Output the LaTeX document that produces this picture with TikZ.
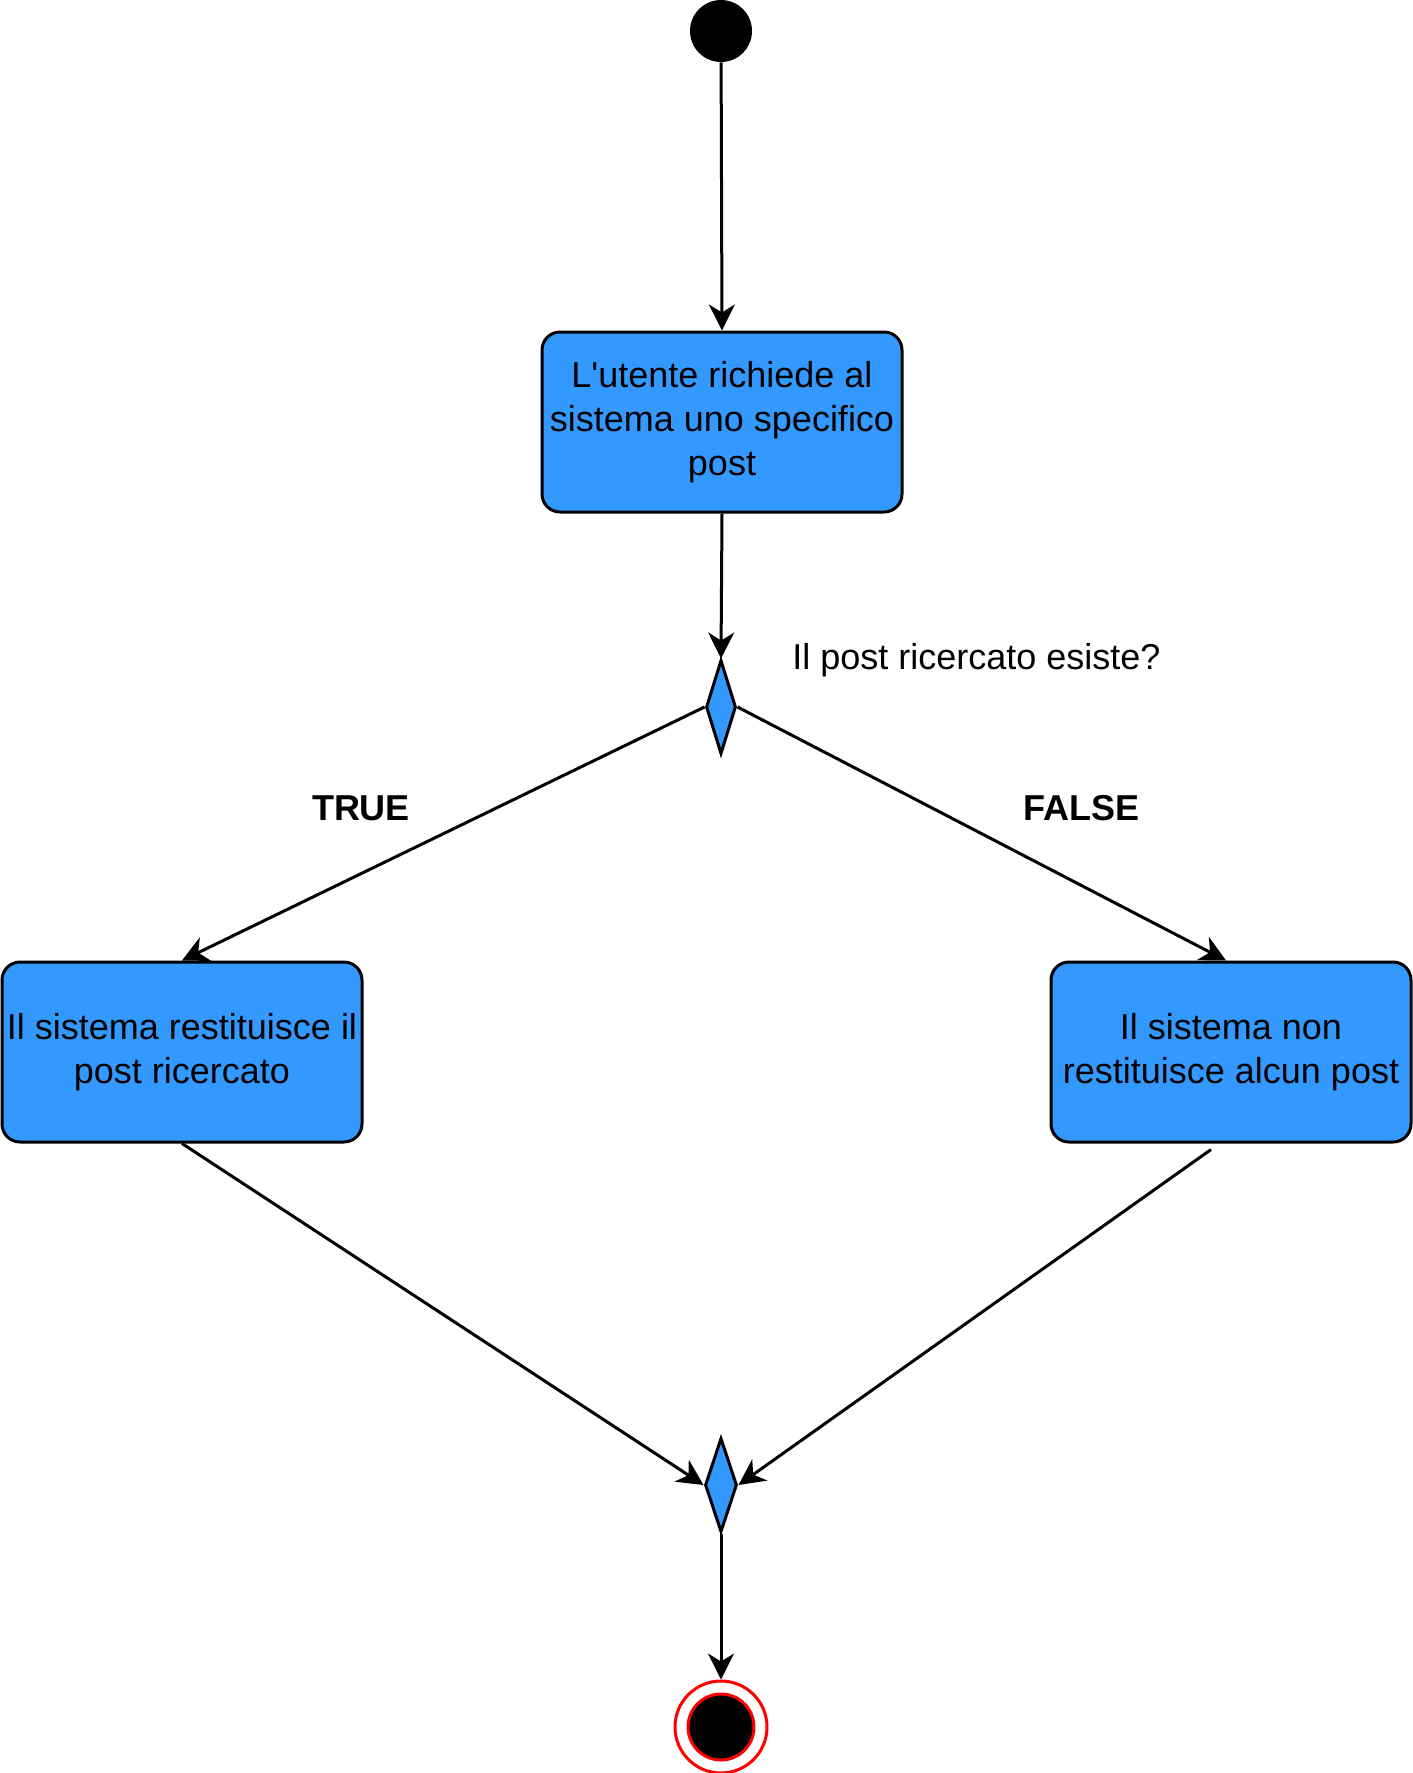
\documentclass[tikz,border=0pt]{standalone}
\usepackage{fontspec}
\setmainfont{Liberation Sans}
\usetikzlibrary{arrows.meta,shapes.geometric}
\definecolor{actblue}{HTML}{3399FF}
\begin{document}
\begin{tikzpicture}[x=0.5pt,y=-0.5pt,
  every node/.style={font=\fontsize{18}{22}\selectfont},
  action/.style={draw=black, line width=1.5pt, fill=actblue, rounded corners=9pt,
    minimum width=180pt, minimum height=90pt, align=center, inner sep=1pt},
  decision/.style={draw=black, line width=1.5pt, fill=actblue, diamond,
    minimum width=15pt, minimum height=47pt, inner sep=0pt},
  arr/.style={-{Stealth[length=13pt,width=13pt,inset=4pt]}, line width=1.5pt},
  lbl/.style={inner sep=0pt}]
\useasboundingbox (0,0) rectangle (1413,1773);
\node[circle, fill=black, minimum size=31pt, inner sep=0pt] (start) at (721,31) {};
\node[action] (b1) at (722,422) {L\textquotesingle utente richiede al\\sistema uno specifico\\post};
\node[decision] (d1) at (721,707) {};
\node[lbl, anchor=west] (q) at (792,660) {Il post ricercato esiste?};
\node[action] (b2) at (182,1052) {Il sistema restituisce il\\post ricercato};
\node[action] (b3) at (1231,1052) {Il sistema non\\restituisce alcun post};
\node[lbl, font=\fontsize{18}{22}\selectfont\bfseries] (t) at (361,808) {TRUE};
\node[lbl, font=\fontsize{18}{22}\selectfont\bfseries] (f) at (1081,808) {FALSE};
\node[decision, minimum width=16pt] (d2) at (721,1485) {};
\node[circle, draw=red, line width=1.5pt, fill=white, minimum size=46pt, inner sep=0pt] (endo) at (721,1727) {};
\node[circle, draw=red, line width=1.5pt, fill=black, minimum size=33pt, inner sep=0pt] (endi) at (721,1727) {};
\coordinate (b3out) at ([shift={(-20,6)}]b3.south);
\draw[arr] (start) -- (b1.north);
\draw[arr] (b1.south) -- (d1.north);
\draw[arr] (d1.west) -- (b2.north);
\draw[arr] (d1.east) -- ([shift={(-5,0)}]b3.north);
\draw[arr] (b2.south) -- (d2.west);
\draw[arr] (b3out) -- (d2.east);
\draw[arr] (d2.south) -- (endo.north);
\end{tikzpicture}
\end{document}
